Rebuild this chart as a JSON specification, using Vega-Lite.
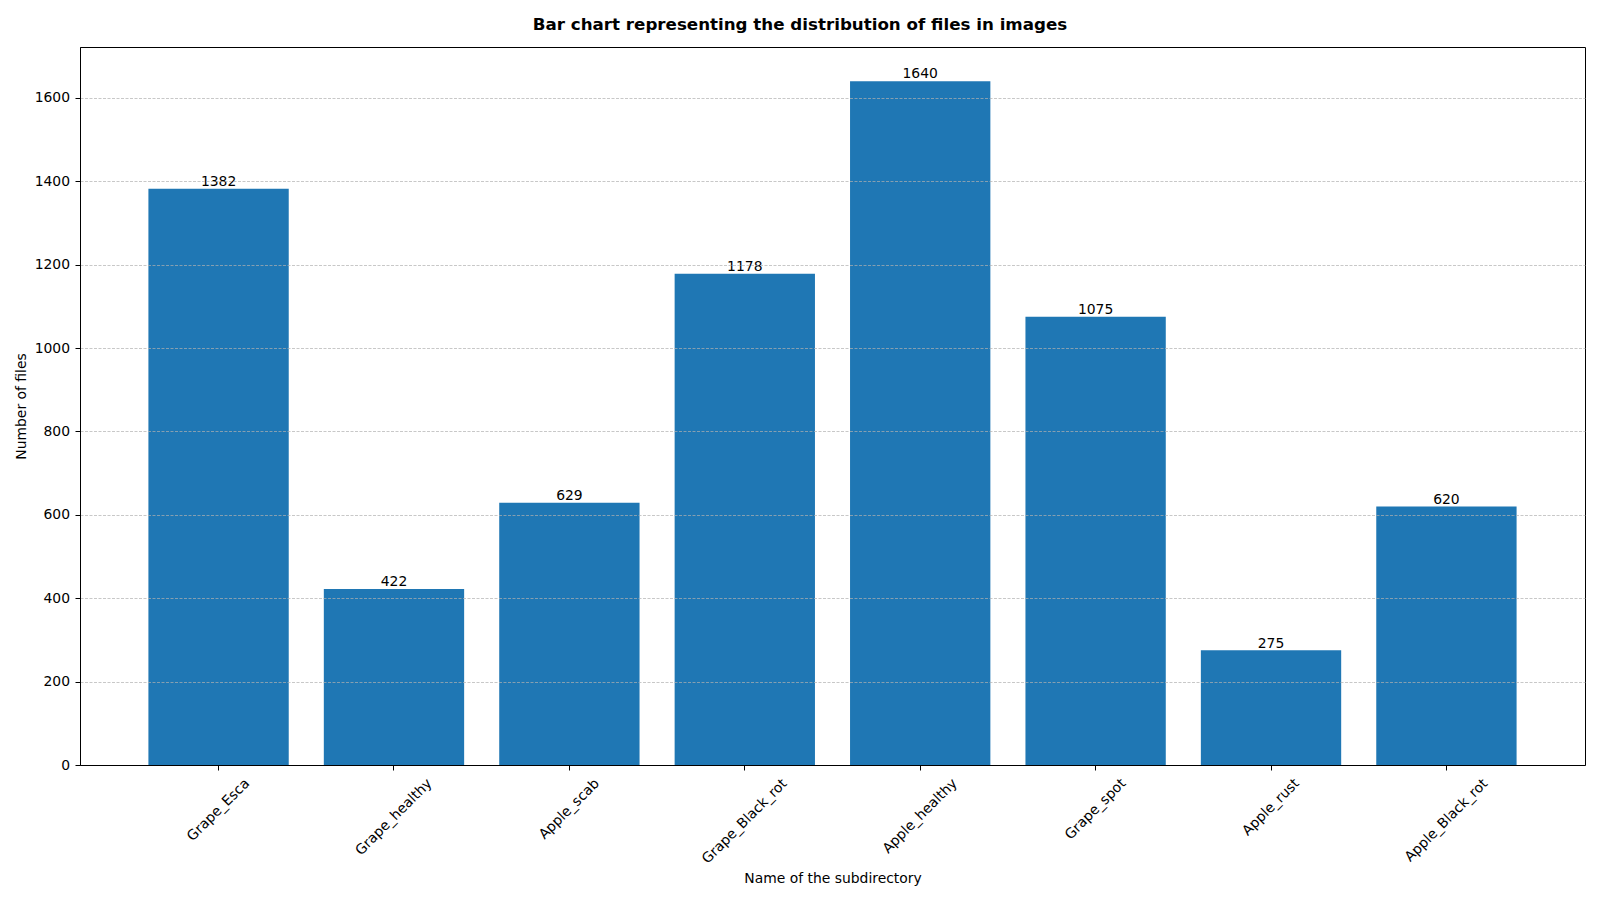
{
  "$schema": "https://vega.github.io/schema/vega-lite/v6.json",
  "autosize": "none",
  "width": 1505,
  "height": 718,
  "padding": {"left": 80, "top": 47, "right": 15, "bottom": 135},
  "background": "white",
  "config": {
    "font": "DejaVu Sans",
    "view": {"stroke": "black", "strokeWidth": 1},
    "axis": {
      "labelFont": "DejaVu Sans",
      "labelFontSize": 13.9,
      "labelColor": "black",
      "titleFont": "DejaVu Sans",
      "titleFontSize": 13.9,
      "titleFontWeight": "normal",
      "titleColor": "black",
      "domainColor": "black",
      "domainWidth": 1,
      "tickColor": "black",
      "tickWidth": 1,
      "tickSize": 5
    }
  },
  "title": {
    "text": "Bar chart representing the distribution of files in images",
    "font": "DejaVu Sans",
    "fontSize": 16.7,
    "fontWeight": "bold",
    "color": "black",
    "anchor": "middle",
    "baseline": "alphabetic",
    "offset": 0,
    "dx": -32.5
  },
  "data": {
    "values": [
      {"name": "Grape_Esca", "files": 1382},
      {"name": "Grape_healthy", "files": 422},
      {"name": "Apple_scab", "files": 629},
      {"name": "Grape_Black_rot", "files": 1178},
      {"name": "Apple_healthy", "files": 1640},
      {"name": "Grape_spot", "files": 1075},
      {"name": "Apple_rust", "files": 275},
      {"name": "Apple_Black_rot", "files": 620}
    ]
  },
  "encoding": {
    "x": {
      "field": "name",
      "type": "nominal",
      "sort": null,
      "scale": {"paddingInner": 0.2, "paddingOuter": 0.39},
      "axis": {
        "title": "Name of the subdirectory",
        "titleBaseline": "alphabetic",
        "titleY": 117,
        "labelAngle": -45,
        "labelAlign": "center",
        "labelBaseline": "middle",
        "labelOverlap": false,
        "labelBound": false,
        "labelFlush": false,
        "labelPadding": {
          "condition": [
            {"test": "datum.value == 'Grape_Esca'", "value": 39.6},
            {"test": "datum.value == 'Grape_healthy'", "value": 46.7},
            {"test": "datum.value == 'Apple_scab'", "value": 38.7},
            {"test": "datum.value == 'Grape_Black_rot'", "value": 51},
            {"test": "datum.value == 'Apple_healthy'", "value": 45.7},
            {"test": "datum.value == 'Grape_spot'", "value": 38.9},
            {"test": "datum.value == 'Apple_rust'", "value": 36.9}
          ],
          "value": 50
        },
        "zindex": 1
      }
    },
    "y": {
      "field": "files",
      "type": "quantitative",
      "scale": {"domain": [0, 1722], "nice": false, "zero": true},
      "axis": {
        "title": "Number of files",
        "titleBaseline": "alphabetic",
        "titleX": -54.3,
        "titleY": 359,
        "format": "d",
        "values": [0, 200, 400, 600, 800, 1000, 1200, 1400, 1600],
        "labelPadding": 5.5,
        "grid": true,
        "gridColor": "#b0b0b0",
        "gridWidth": 0.7,
        "gridDash": [3, 1.5],
        "zindex": 1
      }
    }
  },
  "layer": [
    {
      "mark": {"type": "bar", "color": "#1f77b4"}
    },
    {
      "mark": {
        "type": "text",
        "font": "DejaVu Sans",
        "fontSize": 13.9,
        "color": "black",
        "align": "center",
        "baseline": "alphabetic",
        "dy": -2.7
      },
      "encoding": {"text": {"field": "files", "type": "quantitative"}}
    }
  ]
}
